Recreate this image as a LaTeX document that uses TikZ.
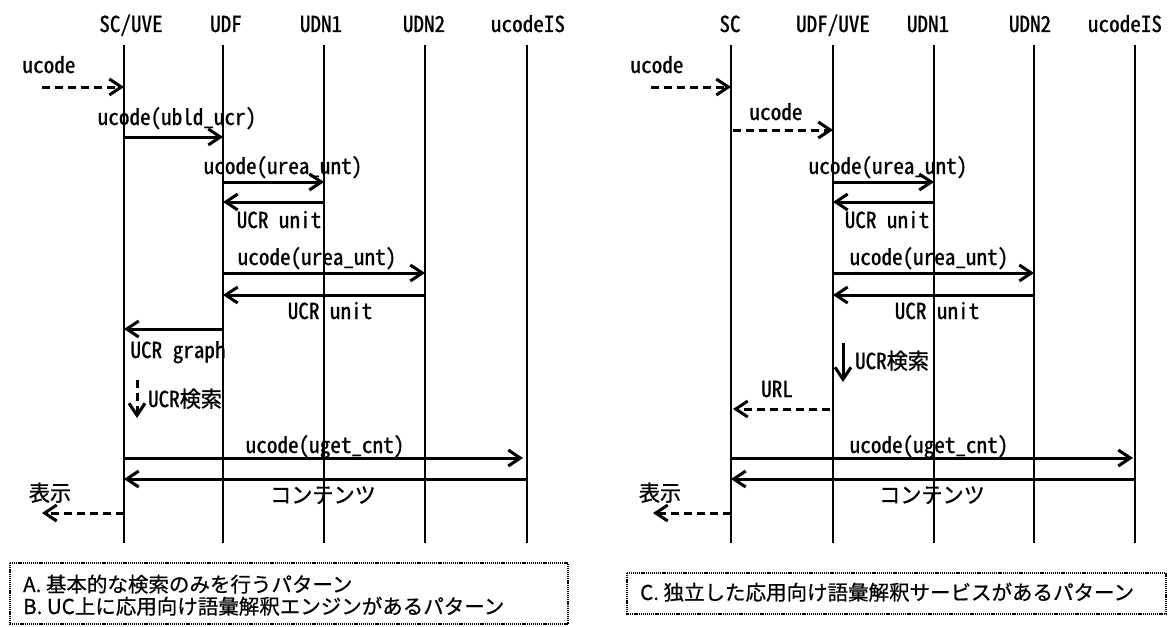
\documentclass[tikz,border=0pt]{standalone}
\usepackage{fontspec}
\setmainfont{Noto Sans CJK JP}
\newfontfamily\lbl[RawFeature=+hwid,FakeBold=1,FakeStretch=0.96]{Noto Sans CJK JP}
\newfontfamily\ntxt[FakeBold=0.6]{Noto Sans CJK JP}
\usetikzlibrary{arrows.meta}
\begin{document}
\begin{tikzpicture}[x=1pt,y=-1pt,
  life/.style={line width=2.2pt},
  msg/.style={line width=3pt,-{Straight Barb[length=12pt,width=16pt]}},
  dmsg/.style={msg,dash pattern=on 8pt off 5pt},
  lab/.style={font=\lbl\fontsize{22}{26}\selectfont, inner sep=0pt, anchor=base},
  note/.style={line width=1.6pt, dash pattern=on 1.2pt off 0.9pt},
  ntext/.style={font=\ntxt\fontsize{20.5}{24}\selectfont, inner sep=0pt, anchor=base west}]
\useasboundingbox (0,0) rectangle (1174,626);

% ---------------- left diagram ----------------
\node[lab] (hA1) at (131,32) {SC/UVE};
\node[lab] (hA2) at (226,32) {UDF};
\node[lab] (hA3) at (321,32) {UDN1};
\node[lab] (hA4) at (424,32) {UDN2};
\node[lab] (hA5) at (528,32) {ucodeIS};
\coordinate (a1) at (124,45);
\coordinate (a2) at (223,45);
\coordinate (a3) at (324,45);
\coordinate (a4) at (425,45);
\coordinate (a5) at (527,45);
\foreach \c in {a1,a2,a3,a4,a5} \draw[life] (\c) -- (\c |- 0,543);

\coordinate (ainS) at (42,87);
\coordinate (aoutE) at (42,513);
\node[lab] (la1) at (49,73) {ucode};
\draw[dmsg] (ainS) -- (a1 |- ainS);
\node[lab] (la2) at (177,125) {ucode(ubld\_ucr)};
\draw[msg] (a1 |- 0,137) -- (a2 |- 0,137);
\node[lab] (la3) at (283,174) {ucode(urea\_unt)};
\draw[msg] (a2 |- 0,182) -- (a3 |- 0,182);
\draw[msg] (a3 |- 0,202) -- (a2 |- 0,202);
\node[lab] (la4) at (279,228) {UCR unit};
\node[lab] (la5) at (317,265) {ucode(urea\_unt)};
\draw[msg] (a2 |- 0,273) -- (a4 |- 0,273);
\draw[msg] (a4 |- 0,295) -- (a2 |- 0,295);
\node[lab] (la6) at (330,319) {UCR unit};
\draw[msg] (a2 |- 0,329) -- (a1 |- 0,329);
\node[lab] (la7) at (178,358) {UCR graph};
\coordinate (asrS) at (137,380);
\coordinate (asrE) at (137,418);
\draw[dmsg] (asrS) -- (asrE);
\node[lab] (la8) at (185,407) {UCR検索};
\node[lab] (la9) at (325,453) {ucode(uget\_cnt)};
\draw[msg] (a1 |- 0,458) -- ([xshift=-4pt]a5 |- 0,458);
\draw[msg] (a5 |- 0,479) -- (a1 |- 0,479);
\node[lab] (la10) at (323,503) {コンテンツ};
\node[lab] (la11) at (50,501) {表示};
\draw[dmsg] (a1 |- aoutE) -- (aoutE);

\draw[note] (10,563) rectangle (568,624);
\node[ntext] (na1) at (23,592) {A. 基本的な検索のみを行うパターン};
\node[ntext] (na2) at (23,614) {B. UC上に応用向け語彙解釈エンジンがあるパターン};

% ---------------- right diagram ----------------
\node[lab] (hB1) at (730,32) {SC};
\node[lab] (hB2) at (833,32) {UDF/UVE};
\node[lab] (hB3) at (928,32) {UDN1};
\node[lab] (hB4) at (1030,32) {UDN2};
\node[lab] (hB5) at (1125,32) {ucodeIS};
\coordinate (b1) at (731,45);
\coordinate (b2) at (833,45);
\coordinate (b3) at (934,45);
\coordinate (b4) at (1034,45);
\coordinate (b5) at (1135,45);
\foreach \c in {b1,b2,b3,b4,b5} \draw[life] (\c) -- (\c |- 0,543);

\coordinate (binS) at (651,87);
\coordinate (boutE) at (653,513);
\node[lab] (lb1) at (657,73) {ucode};
\draw[dmsg] (binS) -- (b1 |- binS);
\node[lab] (lb2) at (776,120) {ucode};
\draw[dmsg] ([xshift=2pt]b1 |- 0,130) -- (b2 |- 0,130);
\node[lab] (lb3) at (888,174) {ucode(urea\_unt)};
\draw[msg] (b2 |- 0,182) -- (b3 |- 0,182);
\draw[msg] (b3 |- 0,202) -- (b2 |- 0,202);
\node[lab] (lb4) at (887,228) {UCR unit};
\node[lab] (lb5) at (929,265) {ucode(urea\_unt)};
\draw[msg] (b2 |- 0,273) -- (b4 |- 0,273);
\draw[msg] (b4 |- 0,295) -- (b2 |- 0,295);
\node[lab] (lb6) at (937,319) {UCR unit};
\coordinate (bsrS) at (843,343);
\coordinate (bsrE) at (843,382);
\draw[msg] (bsrS) -- (bsrE);
\node[lab] (lb7) at (892,369) {UCR検索};
\node[lab] (lb8) at (777,397) {URL};
\draw[dmsg] ([xshift=-3pt]b2 |- 0,409) -- ([xshift=2pt]b1 |- 0,409);
\node[lab] (lb9) at (929,453) {ucode(uget\_cnt)};
\draw[msg] (b1 |- 0,458) -- ([xshift=-2pt]b5 |- 0,458);
\draw[msg] (b5 |- 0,479) -- (b1 |- 0,479);
\node[lab] (lb10) at (932,503) {コンテンツ};
\node[lab] (lb11) at (660,501) {表示};
\draw[dmsg] (b1 |- boutE) -- (boutE);

\draw[note] (627,573) rectangle (1166,614);
\node[ntext] (nc1) at (640,600) {C. 独立した応用向け語彙解釈サービスがあるパターン};
\end{tikzpicture}
\end{document}
